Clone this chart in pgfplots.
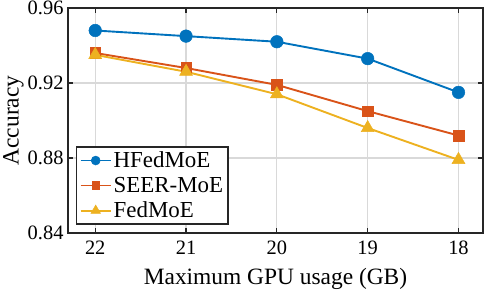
\documentclass[border=0pt]{standalone}
\usepackage{fontspec}
\setmainfont{Liberation Serif}
\usepackage{pgfplots}
\pgfplotsset{compat=1.18}
\definecolor{c1}{rgb}{0,0.447,0.741}
\definecolor{c2}{rgb}{0.85,0.325,0.098}
\definecolor{c3}{rgb}{0.929,0.694,0.125}
\begin{document}
\begin{tikzpicture}
\begin{axis}[
 name=ax,
 scale only axis, width=415bp, height=225bp,
 xmin=-0.3, xmax=4.27, ymin=0.84, ymax=0.96,
 xtick={0,1,2,3,4}, xticklabels={22,21,20,19,18},
 ytick={0.84,0.88,0.92,0.96},
 yticklabel style={/pgf/number format/fixed, /pgf/number format/fixed zerofill, /pgf/number format/precision=2, xshift=-1bp},
 xticklabel style={yshift=-4bp},
 /pgf/number format/assume math mode=true,
 tick label style={font=\fontsize{20.5}{24}\selectfont},
 label style={font=\fontsize{23.5}{28}\selectfont, inner sep=0pt},
 xlabel={Maximum GPU usage (GB)}, ylabel={Accuracy},
 xlabel style={at={([yshift=-57bp]axis description cs:0.5,0)}, anchor=south},
 ylabel style={at={([xshift=-44bp]axis description cs:0,0.5)}, anchor=south},
 grid=major, grid style={black!15, line width=1.2bp},
 axis line style={black!85, line width=1.5bp},
 tick style={black!85, line width=1.2bp},
 major tick length=5bp,
 tick align=inside,
 legend style={at={(0,0)}, anchor=south west, xshift=8bp, yshift=8bp, font=\fontsize{23}{25}\selectfont, draw=black!85, line width=1.5bp, inner sep=3bp, row sep=4bp},
 legend cell align=left,
 legend image code/.code={\draw[mark repeat=2,mark phase=2,#1] plot coordinates {(0bp,0bp) (15bp,0bp) (30bp,0bp)};},
]
\addplot[c1, line width=1.9bp, mark=*, mark size=6.3bp, mark options={solid, fill=c1, line width=0.5bp}, legend image post style={mark size=4.5bp}] coordinates {(0,0.948) (1,0.945) (2,0.942) (3,0.933) (4,0.915)};
\addlegendentry{HFedMoE}
\addplot[c2, line width=1.9bp, mark=square*, mark size=5.3bp, mark options={solid, fill=c2, line width=0.5bp}, legend image post style={mark size=3.8bp}] coordinates {(0,0.936) (1,0.928) (2,0.919) (3,0.905) (4,0.892)};
\addlegendentry{SEER-MoE}
\addplot[c3, line width=1.9bp, mark=triangle*, mark size=7.5bp, mark options={solid, fill=c3, line width=0.5bp}, legend image post style={mark size=5.5bp}] coordinates {(0,0.935) (1,0.926) (2,0.914) (3,0.896) (4,0.879)};
\addlegendentry{FedMoE}
\end{axis}
\pgfresetboundingbox
\path ([shift={(-68bp,-58bp)}]ax.south west) rectangle ([shift={(5bp,8bp)}]ax.north east);
\end{tikzpicture}
\end{document}
